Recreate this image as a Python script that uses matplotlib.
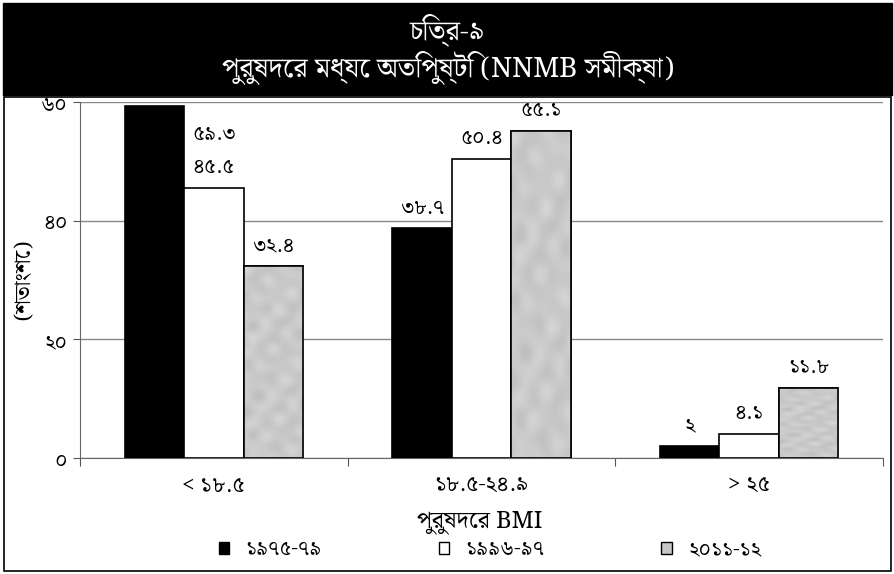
import matplotlib
matplotlib.use("Agg")
import matplotlib.pyplot as plt
from matplotlib import font_manager
from matplotlib.patches import Rectangle, Patch
import numpy as np

# ---- data ----
categories = ["< ১৮.৫", "১৮.৫-২৪.৯", "> ২৫"]
series_names = ["১৯৭৫-৭৯", "১৯৯৬-৯৭", "২০১১-১২"]
values_1975 = [59.3, 38.7, 2.0]
values_1996 = [45.5, 50.4, 4.1]
values_2011 = [32.4, 55.1, 11.8]
value_labels_1975 = ["৫৯.৩", "৩৮.৭", "২"]
value_labels_1996 = ["৪৫.৫", "৫০.৪", "৪.১"]
value_labels_2011 = ["৩২.৪", "৫৫.১", "১১.৮"]
y_ticks = [0, 20, 40, 60]
y_tick_labels = ["০", "২০", "৪০", "৬০"]
title_line1 = "চিত্র-৯"
title_line2 = "পুরুষদের মধ্যে অতিপুষ্টি (NNMB সমীক্ষা)"
x_title = "পুরুষদের BMI"
y_title = "(শতাংশে)"

# pick whatever installed families can draw Bengali, then fall back
wanted = ["Noto Serif Bengali", "Noto Sans Bengali", "Lohit Bengali", "FreeSerif",
          "Liberation Serif", "DejaVu Serif", "DejaVu Sans"]
available = {f.name for f in font_manager.fontManager.ttflist}
families = [f for f in wanted if f in available] or ["DejaVu Sans"]
plt.rcParams["font.family"] = families

W, H = 895, 574
fig = plt.figure(figsize=(W / 100, H / 100), dpi=100)
fig.patch.set_facecolor("white")

def fx(px):
    return px / W

def fy(py):
    return 1 - py / H

# title band
fig.patches.append(Rectangle((fx(3), fy(95)), fx(889), 92 / H, transform=fig.transFigure,
                             facecolor="black", edgecolor="black", zorder=0))
# outer frame around the chart body
fig.patches.append(Rectangle((fx(4), fy(571)), fx(887), 474 / H, transform=fig.transFigure,
                             facecolor="none", edgecolor="black", linewidth=1.2, zorder=0))
fig.text(0.5, fy(30), title_line1, color="white", ha="center", va="center", fontsize=20)
fig.text(0.5, fy(68), title_line2, color="white", ha="center", va="center", fontsize=20)

ax = fig.add_axes([fx(80), fy(458), fx(803), (458 - 102) / H])
x = np.arange(len(categories))
bw = 0.222
colors = ["black", "white", "#c6c6c6"]
all_vals = [values_1975, values_1996, values_2011]
all_labels = [value_labels_1975, value_labels_1996, value_labels_2011]

ax.set_axisbelow(True)
ax.yaxis.grid(True, color="#888888", linewidth=1.0)
bar_groups = []
for i, (vals, col) in enumerate(zip(all_vals, colors)):
    bars = ax.bar(x + (i - 1) * bw, vals, width=bw, color=col, edgecolor="black",
                  linewidth=1.2, zorder=3)
    bar_groups.append(bars)

# mottled grey fill for the latest survey's bars (blotchy, built from mixed waves)
yy, xx = np.mgrid[0:240, 0:60].astype(float)
mottle = np.zeros_like(xx)
for k, (a, b, ph) in enumerate([(0.21, 0.13, 0.0), (-0.17, 0.23, 1.3), (0.31, -0.09, 2.1),
                                 (0.07, 0.29, 0.7), (-0.26, -0.19, 2.9), (0.12, 0.05, 1.9)]):
    mottle += np.sin(a * xx + b * yy + ph) / (1 + 0.3 * k)
mottle = 0.79 + 0.045 * mottle / np.abs(mottle).max()
for rect in bar_groups[2]:
    x0, w, h = rect.get_x(), rect.get_width(), rect.get_height()
    im = ax.imshow(mottle, cmap="gray", vmin=0, vmax=1, extent=(x0, x0 + w, 0, h),
                   aspect="auto", interpolation="bicubic", zorder=3.5)
    im.set_clip_path(rect)
    edge = Rectangle((x0, 0), w, h, facecolor="none", edgecolor="black", linewidth=1.2, zorder=4)
    ax.add_patch(edge)

# value labels above bars
for i, (vals, labs) in enumerate(zip(all_vals, all_labels)):
    for j, (v, lab) in enumerate(zip(vals, labs)):
        xpos = x[j] + (i - 1) * bw
        if v > 57:
            ax.annotate(lab, (xpos + bw / 2, v), xytext=(6, -20), textcoords="offset points",
                        ha="left", va="center", fontsize=15)
        else:
            ax.annotate(lab, (xpos, v), xytext=(0, 15), textcoords="offset points",
                        ha="center", va="center", fontsize=15)

ax.set_xlim(-0.5, 2.5)
ax.set_ylim(0, 60)
ax.set_yticks(y_ticks)
ax.set_yticklabels(y_tick_labels, fontsize=15)
ax.set_xticks([-0.5, 0.5, 1.5, 2.5])
ax.set_xticklabels([])
ax.set_xticks(x, minor=True)
ax.set_xticklabels(categories, minor=True, fontsize=16)
ax.tick_params(axis="x", which="minor", length=0, pad=12)
ax.tick_params(axis="x", which="major", length=6, color="#555555")
ax.tick_params(axis="y", length=5, color="#555555", pad=4)
for s in ["top", "right"]:
    ax.spines[s].set_visible(False)
ax.spines["left"].set_color("#666666")
ax.spines["bottom"].set_color("#666666")
ax.set_ylabel(y_title, fontsize=16, labelpad=4)

fig.text(fx(480), fy(522), x_title, ha="center", va="center", fontsize=17)

handles = [Patch(facecolor=c, edgecolor="black", linewidth=1.0) for c in colors]
fig.legend(handles, series_names, loc="center", bbox_to_anchor=(fx(490), fy(549)), ncol=3,
           frameon=False, fontsize=15, handlelength=0.5, handleheight=0.5, columnspacing=5.6,
           handletextpad=0.8)

fig.savefig("out.png", dpi=100)
